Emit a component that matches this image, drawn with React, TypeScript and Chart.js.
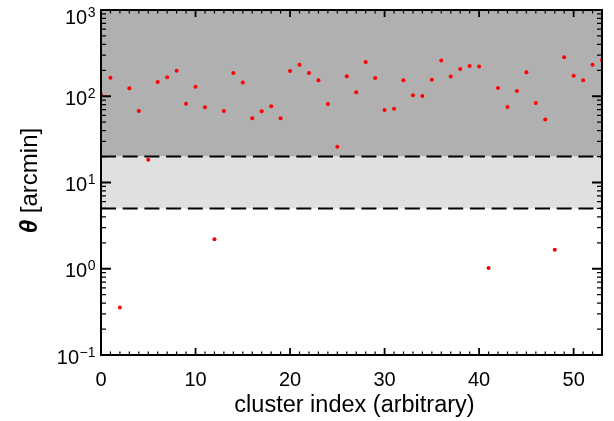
import { useEffect, useRef } from "react";
import { Chart, registerables } from "chart.js";

Chart.register(...registerables);

// ---- data ----
const clusterIndex = [
  0, 1, 2, 3, 4, 5, 6, 7, 8, 9, 10, 11, 12, 13, 14, 15, 16, 17, 18, 19, 20, 21, 22, 23, 24, 25, 26,
  27, 28, 29, 30, 31, 32, 33, 34, 35, 36, 37, 38, 39, 40, 41, 42, 43, 44, 45, 46, 47, 48, 49, 50, 51,
  52, 53,
];
const thetaArcmin = [
  104, 164, 0.355, 124, 67.6, 18.3, 146, 166, 198, 82, 129, 74.5, 2.2, 67.6, 186, 144, 55.6, 67,
  76.5, 55.6, 196, 232, 186, 153, 81.5, 25.9, 171, 111, 250, 163, 69.3, 71.8, 153, 103, 101, 155,
  259, 169, 207, 224, 222, 1.02, 125, 75, 115, 190, 83.6, 53.6, 1.66, 283, 173, 153, 232, 261,
];
const xTickValues = [0, 10, 20, 30, 40, 50];
const yDecades = [-1, 0, 1, 2, 3];
const xLimits = [0, 53];
const yLimits = [0.1, 1000];
const outerBand = 20; // arcmin
const innerBand = 5; // arcmin
const xTitle = "cluster index (arbitrary)";
const yTitleSymbol = "θ";
const yTitleUnit = " [arcmin]";

const FONT = "'Liberation Sans', Arial, Helvetica, sans-serif";

const framePlugin = {
  id: "idlFrame",
  beforeDatasetsDraw(chart: any) {
    const { ctx, chartArea } = chart;
    const { left, right, top, bottom } = chartArea;
    const ys = chart.scales.y;
    const yOuter = ys.getPixelForValue(outerBand);
    const yInner = ys.getPixelForValue(innerBand);
    const yTop = ys.getPixelForValue(yLimits[1]);
    ctx.save();
    ctx.fillStyle = "#b0b0b0";
    ctx.fillRect(left, yTop, right - left, yOuter - yTop);
    ctx.fillStyle = "#e0e0e0";
    ctx.fillRect(left, yOuter, right - left, yInner - yOuter);
    ctx.strokeStyle = "#000";
    ctx.lineWidth = 2;
    ctx.setLineDash([15, 6.7]);
    for (const yy of [yOuter, yInner]) {
      ctx.beginPath();
      ctx.moveTo(left, yy);
      ctx.lineTo(right, yy);
      ctx.stroke();
    }
    ctx.restore();
  },
  afterDatasetsDraw(chart: any) {
    const { ctx, chartArea } = chart;
    const { left, right, top, bottom } = chartArea;
    const xs = chart.scales.x;
    const ys = chart.scales.y;
    ctx.save();
    ctx.strokeStyle = "#000";
    ctx.fillStyle = "#000";

    // ticks
    const xMajor = 7,
      xMinor = 3.5,
      yMajor = 10,
      yMinor = 5;
    ctx.lineWidth = 1.3;
    for (let v = xLimits[0]; v <= xLimits[1]; v++) {
      const px = xs.getPixelForValue(v);
      const len = v % 10 === 0 ? xMajor : xMinor;
      ctx.lineWidth = v % 10 === 0 ? 1.8 : 1.2;
      ctx.beginPath();
      ctx.moveTo(px, bottom);
      ctx.lineTo(px, bottom - len);
      ctx.moveTo(px, top);
      ctx.lineTo(px, top + len);
      ctx.stroke();
    }
    for (let i = 0; i < yDecades.length; i++) {
      const d = yDecades[i];
      const py = ys.getPixelForValue(Math.pow(10, d));
      ctx.lineWidth = 1.8;
      ctx.beginPath();
      ctx.moveTo(left, py);
      ctx.lineTo(left + yMajor, py);
      ctx.moveTo(right, py);
      ctx.lineTo(right - yMajor, py);
      ctx.stroke();
      if (i < yDecades.length - 1) {
        ctx.lineWidth = 1.2;
        for (let m = 2; m <= 9; m++) {
          const pm = ys.getPixelForValue(m * Math.pow(10, d));
          ctx.beginPath();
          ctx.moveTo(left, pm);
          ctx.lineTo(left + yMinor, pm);
          ctx.moveTo(right, pm);
          ctx.lineTo(right - yMinor, pm);
          ctx.stroke();
        }
      }
    }

    // frame
    ctx.lineWidth = 2;
    ctx.strokeRect(left, top, right - left, bottom - top);

    // x tick labels
    ctx.font = `20px ${FONT}`;
    ctx.textAlign = "center";
    ctx.textBaseline = "alphabetic";
    for (const v of xTickValues) {
      ctx.fillText(String(v), xs.getPixelForValue(v), 386);
    }

    // y tick labels 10^d
    ctx.textAlign = "left";
    for (const d of yDecades) {
      const py = ys.getPixelForValue(Math.pow(10, d));
      const base = "10";
      const exp = d < 0 ? "\u2212" + String(-d) : String(d);
      ctx.font = `20px ${FONT}`;
      const wb = ctx.measureText(base).width;
      ctx.font = `14px ${FONT}`;
      const we = ctx.measureText(exp).width;
      const x0 = left - 6 - wb - we;
      const baseline = Math.max(py + 8.5, 24);
      ctx.font = `20px ${FONT}`;
      ctx.fillText(base, x0, baseline);
      ctx.font = `14px ${FONT}`;
      ctx.fillText(exp, x0 + wb + 0.5, baseline - 7);
    }

    // x title
    ctx.font = `23.5px ${FONT}`;
    ctx.textAlign = "center";
    ctx.fillText(xTitle, (left + right) / 2 + 3, 412);

    // y title (rotated)
    ctx.translate(30, (top + bottom) / 2 - 2);
    ctx.rotate(-Math.PI / 2);
    ctx.textBaseline = "middle";
    ctx.textAlign = "left";
    ctx.font = `italic bold 24px ${FONT}`;
    const ws = ctx.measureText(yTitleSymbol).width;
    ctx.font = `24px ${FONT}`;
    const wu = ctx.measureText(yTitleUnit).width;
    const start = -(ws + wu) / 2;
    ctx.font = `italic bold 24px ${FONT}`;
    ctx.fillText(yTitleSymbol, start, 0);
    ctx.font = `24px ${FONT}`;
    ctx.fillText(yTitleUnit, start + ws, 0);

    ctx.restore();
  },
};

export default function App() {
  const canvasRef = useRef<HTMLCanvasElement | null>(null);

  useEffect(() => {
    if (!canvasRef.current) return;
    const points = clusterIndex.map((x, i) => ({ x, y: thetaArcmin[i] }));
    const chart = new Chart(canvasRef.current, {
      type: "scatter",
      data: {
        datasets: [
          {
            data: points,
            backgroundColor: "#ff0000",
            borderWidth: 0,
            pointRadius: 2,
            pointHoverRadius: 2,
            clip: 0,
          } as any,
        ],
      },
      options: {
        animation: false,
        responsive: false,
        devicePixelRatio: 1,
        events: [],
        layout: { padding: { top: 10, right: 12, left: 0, bottom: 0 } },
        plugins: {
          legend: { display: false },
          tooltip: { enabled: false },
        },
        scales: {
          x: {
            type: "linear",
            min: xLimits[0],
            max: xLimits[1],
            ticks: { display: false },
            grid: { display: false },
            border: { display: false },
            afterFit: (s: any) => {
              s.height = 66;
            },
          },
          y: {
            type: "logarithmic",
            min: yLimits[0],
            max: yLimits[1],
            ticks: { display: false },
            grid: { display: false },
            border: { display: false },
            afterFit: (s: any) => {
              s.width = 101;
            },
          },
        },
      },
      plugins: [framePlugin],
    });
    return () => chart.destroy();
  }, []);

  return (
    <div style={{ position: "fixed", left: 0, top: 0, width: 614, height: 421, background: "#fff" }}>
      <canvas ref={canvasRef} width={614} height={421} style={{ display: "block" }} />
    </div>
  );
}
